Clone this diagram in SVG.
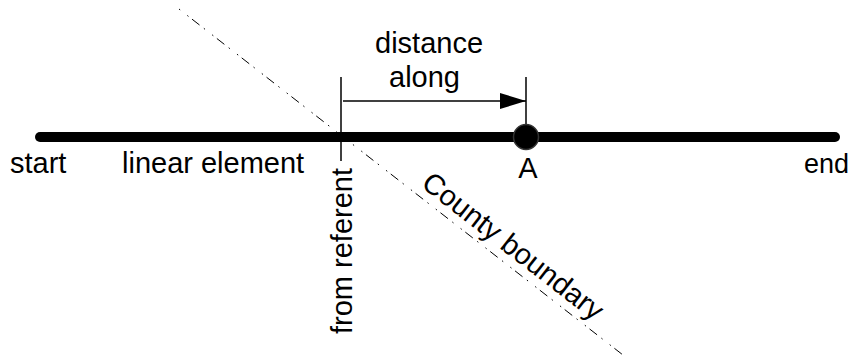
<svg xmlns="http://www.w3.org/2000/svg" width="851" height="360" viewBox="0 0 851 360">
<style>
text{font-family:"Liberation Sans",Arial,sans-serif;font-size:29px;fill:#000}
.thin{stroke:#000;stroke-width:1.5;fill:none}
</style>
<defs>
<marker id="ah" markerUnits="userSpaceOnUse" markerWidth="27" markerHeight="17" refX="26" refY="8" orient="auto">
<path d="M0,0 L26,8 L0,16 Z" fill="#000"/>
</marker>
</defs>
<rect width="851" height="360" fill="#fff"/>
<g id="connectors">
<line id="boundary" x1="179" y1="9" x2="623" y2="355" stroke="#000" stroke-width="1" stroke-dasharray="1.5 9 1.5 4.5 9.5 5.5"/>
<line id="linear-element" x1="40" y1="137" x2="835" y2="137" stroke="#000" stroke-width="10" stroke-linecap="round"/>
<line id="referent-tick" class="thin" x1="341" y1="77" x2="341" y2="161"/>
<line id="a-tick" class="thin" x1="526" y1="77" x2="526" y2="125"/>
<line id="distance-arrow" class="thin" x1="343" y1="101" x2="526" y2="101" marker-end="url(#ah)"/>
</g>
<g id="point-a">
<circle cx="526" cy="137" r="12.5" fill="#000" stroke="#333" stroke-width="1.5"/>
<text x="528" y="178" text-anchor="middle">A</text>
</g>
<g id="labels">
<text x="10" y="173">start</text>
<text x="122" y="173">linear element</text>
<text x="804" y="173" style="font-size:27px">end</text>
<text x="375" y="53">distance</text>
<text x="389" y="87">along</text>
<text transform="translate(352,334) rotate(-90)">from referent</text>
<text transform="translate(420,186) rotate(37.9)">County boundary</text>
</g>
</svg>
